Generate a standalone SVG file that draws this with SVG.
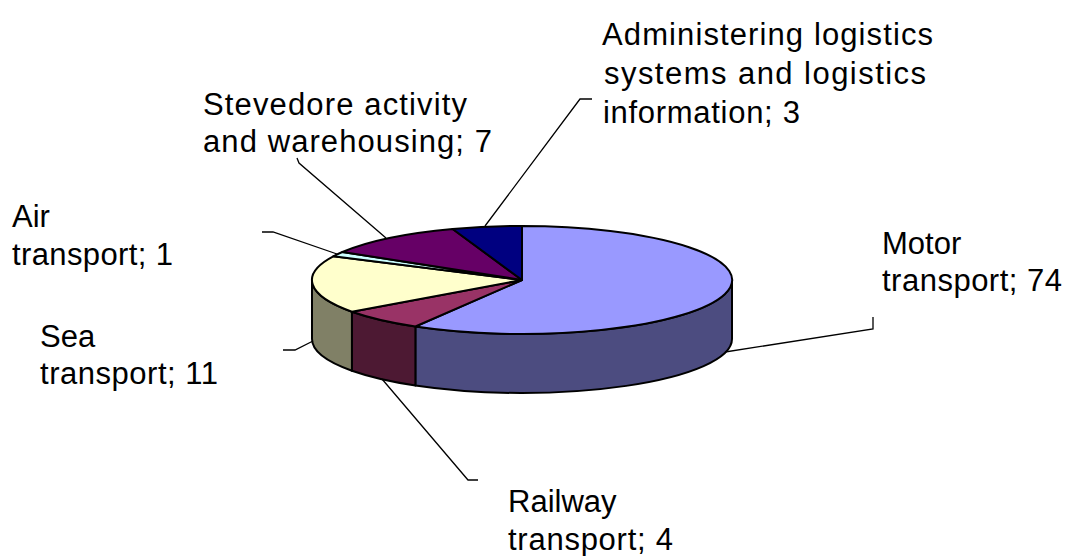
<svg xmlns="http://www.w3.org/2000/svg" width="1068" height="556" viewBox="0 0 1068 556">
<style>
.s{stroke:#000;stroke-width:2;stroke-linejoin:round}
.lbl{font-family:"Liberation Sans",Arial,sans-serif;font-size:31px;fill:#000}
.ld{fill:none;stroke:#000;stroke-width:1.3}
</style>
<rect width="1068" height="556" fill="#fff"/>
<g id="sides">
<path class="s" fill="#4C4C80" d="M732,280 A210,54 0 0 1 415.4,326.5 L415.4,385.5 A210,54 0 0 0 732,339 Z"/>
<path class="s" fill="#4D1933" d="M415.4,326.5 A210,54 0 0 1 351.9,311.7 L351.9,370.7 A210,54 0 0 0 415.4,385.5 Z"/>
<path class="s" fill="#808066" d="M351.9,311.7 A210,54 0 0 1 312,280 L312,339 A210,54 0 0 0 351.9,370.7 Z"/>
</g>
<g id="motor">
<path class="s" fill="#9999FF" d="M522,280 L522,226 A210,54 0 1 1 415.4,326.5 Z"/>
<text class="lbl" x="882" y="254">Motor</text>
<text class="lbl" x="882" y="291" textLength="180">transport; 74</text>
</g>
<g id="railway">
<path class="s" fill="#993366" d="M522,280 L415.4,326.5 A210,54 0 0 1 351.9,311.7 Z"/>
<text class="lbl" x="508" y="512">Railway</text>
<text class="lbl" x="508" y="550" textLength="165">transport; 4</text>
</g>
<g id="sea">
<path class="s" fill="#FFFFCC" d="M522,280 L351.9,311.7 A210,54 0 0 1 333.3,256.3 Z"/>
<text class="lbl" x="40" y="347">Sea</text>
<text class="lbl" x="40" y="384" textLength="178">transport; 11</text>
</g>
<g id="air">
<path class="s" fill="#CCFFFF" d="M522,280 L333.3,256.3 A210,54 0 0 1 342.4,252 Z"/>
<text class="lbl" x="12" y="227">Air</text>
<text class="lbl" x="12" y="265" textLength="161">transport; 1</text>
</g>
<g id="stevedore">
<path class="s" fill="#660066" d="M522,280 L342.4,252 A210,54 0 0 1 452.6,229 Z"/>
<text class="lbl" x="203" y="115" textLength="264">Stevedore activity</text>
<text class="lbl" x="203" y="152" textLength="289">and warehousing; 7</text>
</g>
<g id="admin">
<path class="s" fill="#000080" d="M522,280 L452.6,229 A210,54 0 0 1 522,226 Z"/>
<text class="lbl" x="602" y="45" textLength="331">Administering logistics</text>
<text class="lbl" x="604" y="84" textLength="322">systems and logistics</text>
<text class="lbl" x="603" y="123" textLength="197">information; 3</text>
</g>
<g id="connectors">
<polyline class="ld" points="485,226 580,99 592,99"/>
<polyline class="ld" points="386,238 299,163 297,158"/>
<polyline class="ld" points="337,254 273,232 262,232"/>
<polyline class="ld" points="313,341 295,350 283,350"/>
<polyline class="ld" points="725,352 873,329 873,317"/>
<polyline class="ld" points="382,379 468,480 478,480"/>
</g>
</svg>
